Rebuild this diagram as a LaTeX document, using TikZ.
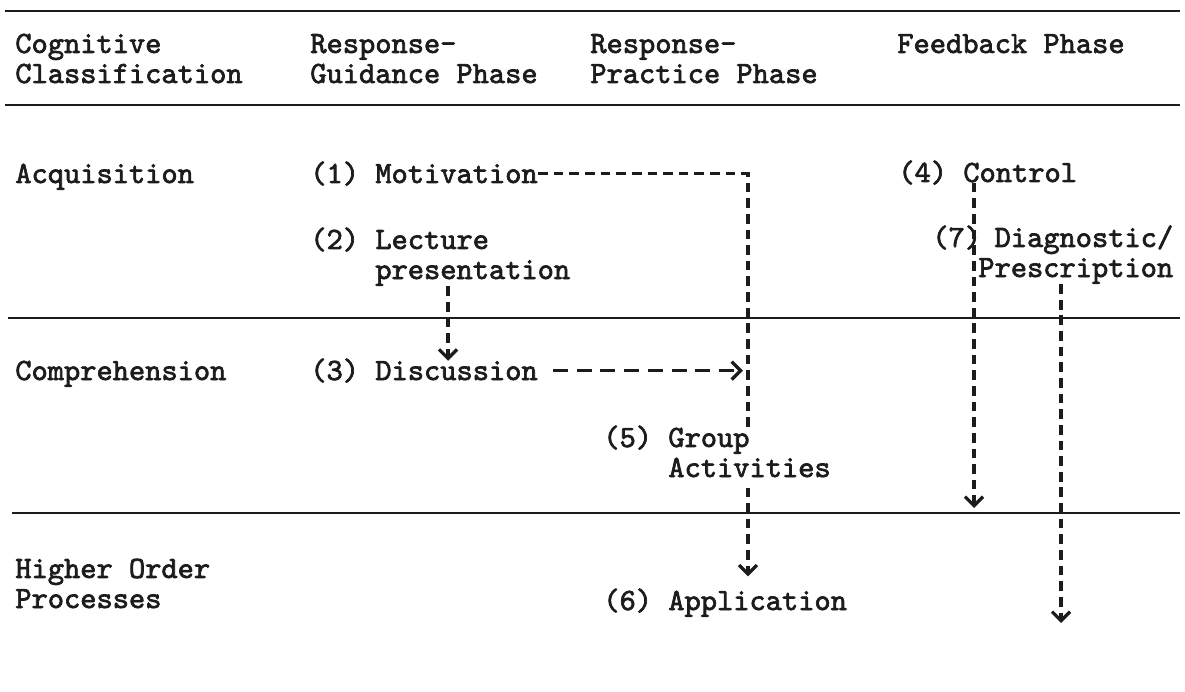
\documentclass[tikz,border=0pt]{standalone}
\usepackage{fontspec}
\usepackage{tikz}
\usetikzlibrary{arrows.meta,positioning}
\newfontfamily\typewr{lmmono10-regular.otf}[RawFeature={embolden=2.2}]
\definecolor{Ink}{HTML}{1C1C1C}

\begin{document}
\begin{tikzpicture}[
  x=0.02cm, y=-0.02cm,
  font=\typewr\fontsize{17.6pt}{17.1pt}\selectfont,
  txt/.style={anchor=base west, inner sep=0pt, align=left, text=Ink},
  rule/.style={draw=Ink, line width=1.7pt},
  dline/.style={draw=Ink, line width=1.9pt, dash pattern=on 5.5pt off 3.4pt},
  lline/.style={draw=Ink, line width=1.9pt, dash pattern=on 8.5pt off 5pt},
  tip/.style={-{Straight Barb[length=1.8mm,width=3.6mm]}},
]
\useasboundingbox (0,0) rectangle (1185,692);
% header (base = last line)
\node[txt] (h1) at (15,83) {Cognitive\\Classification};
\node[txt] (h2) at (310,83) {Response-\\Guidance Phase};
\node[txt] (h3) at (590,83) {Response-\\Practice Phase};
\node[txt] (h4) at (897,53) {Feedback Phase};
% rows
\node[txt] (acq) at (15,183) {Acquisition};
\node[txt] (com) at (15,380) {Comprehension};
\node[txt] (hop) at (15,608) {Higher Order\\Processes};
% items
\node[txt] (n1) at (310,183) {(1)};
\node[txt] (mot) at (375,183) {Motivation};
\node[txt] (n2) at (310,249) {(2)};
\node[txt] (lec) at (375,279) {Lecture\\presentation};
\node[txt] (n3) at (310,380) {(3)};
\node[txt] (dis) at (375,380) {Discussion};
\node[txt] (n4) at (898,182) {(4)};
\node[txt] (ctl) at (963,182) {Control};
\node[txt] (n5) at (603,447) {(5)};
\node[txt] (grp) at (668,477) {Group\\Activities};
\node[txt] (n6) at (603,610) {(6)};
\node[txt] (app) at (668,610) {Application};
\node[txt] (n7) at (932,247) {(7)};
\node[txt] (dia) at (978,277) {\hphantom{P}Diagnostic/\\Prescription};
% rules
\coordinate (r1) at (0,11);
\coordinate (r2) at (0,105);
\coordinate (r3) at (0,318);
\coordinate (r4) at (0,513);
\draw[rule] (r1) ++(5,0) -- (1180,11);
\draw[rule] (r2) ++(5,0) -- (1180,105);
\draw[rule] (r3) ++(8,0) -- (1180,318);
\draw[rule] (r4) ++(12,0) -- (1180,513);
% connector columns
\coordinate (px) at (448,0);
\coordinate (vx) at (748,0);
\coordinate (cx) at (974,0);
\coordinate (rend) at (1061,623);
\draw[dline] (mot.east) -- (mot.east -| vx) -- (grp.north -| vx);
\draw[dline, tip, shorten <=0.2cm, shorten >=0.28cm] (grp.south -| vx) -- (app.north -| vx);
\draw[dline, tip] (lec.south -| px) -- (dis.north -| px);
\draw[lline, tip, shorten <=0.3cm, shorten >=0.1cm] (dis.east) -- (dis.east -| vx);
\draw[dline, tip, shorten >=0.1cm] (ctl.south -| cx) -- (r4 -| cx);
\draw[dline, tip] (dia.south -| rend) -- (rend);
\end{tikzpicture}
\end{document}
